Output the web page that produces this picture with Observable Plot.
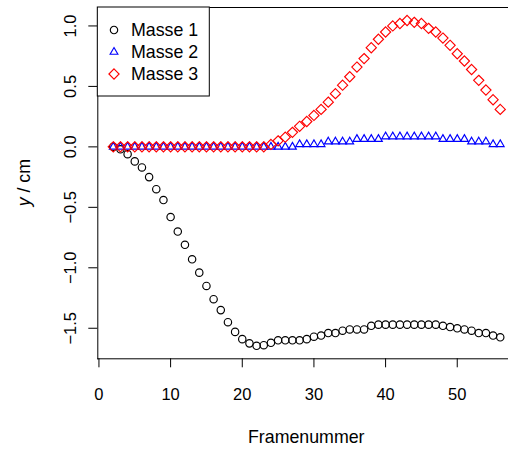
<!DOCTYPE html>
<html><head><meta charset="utf-8">
<script src="https://cdn.jsdelivr.net/npm/d3@7"></script>
<script src="https://cdn.jsdelivr.net/npm/@observablehq/plot@0.6"></script>
<style>
body{margin:0;background:#fff;}
#chart{position:relative;width:508px;height:450px;overflow:hidden;}
</style></head><body><div id="chart"></div>
<script>
const frames = [2,3,4,5,6,7,8,9,10,11,12,13,14,15,16,17,18,19,20,21,22,23,24,25,26,27,28,29,30,31,32,33,34,35,36,37,38,39,40,41,42,43,44,45,46,47,48,49,50,51,52,53,54,55,56];
const masse1 = [0.00,-0.02,-0.06,-0.12,-0.17,-0.25,-0.35,-0.44,-0.58,-0.70,-0.81,-0.93,-1.04,-1.15,-1.26,-1.35,-1.45,-1.53,-1.59,-1.625,-1.645,-1.64,-1.62,-1.60,-1.60,-1.60,-1.60,-1.59,-1.57,-1.56,-1.54,-1.54,-1.52,-1.51,-1.51,-1.51,-1.48,-1.47,-1.47,-1.47,-1.47,-1.47,-1.47,-1.47,-1.47,-1.47,-1.48,-1.49,-1.50,-1.51,-1.52,-1.54,-1.54,-1.56,-1.575];
const masse2 = [0,0,0,0,0,0,0,0,0,0,0,0,0,0,0,0,0,0,0,0,0,0,0,0,0,0,0.021,0.021,0.021,0.021,0.043,0.043,0.043,0.043,0.064,0.064,0.064,0.064,0.085,0.085,0.085,0.085,0.085,0.085,0.085,0.085,0.064,0.064,0.064,0.064,0.043,0.043,0.043,0.021,0.021];
const masse3 = [0,0,0,0,0,0,0,0,0,0,0,0,0,0,0,0,0,0,0,0,0,0,0.02,0.05,0.08,0.12,0.17,0.21,0.26,0.31,0.37,0.44,0.51,0.58,0.66,0.73,0.82,0.89,0.95,1.00,1.02,1.045,1.03,1.02,0.98,0.95,0.90,0.84,0.77,0.71,0.64,0.55,0.47,0.39,0.31];
const seriesNames = ["Masse 1","Masse 2","Masse 3"];
const seriesColors = ["#000000","#0000FF","#FF0000"];
const seriesSymbols = ["circle","triangle2","diamond2"];
const seriesRadius = [3.7,3.7,4.6];
const xTicks = [0,10,20,30,40,50];
const yTicks = [-1.5,-1.0,-0.5,0.0,0.5,1.0];
const xLabel = "Framenummer";

const data = frames.map((f,i)=>({frame:f, m1:masse1[i], m2:masse2[i], m3:masse3[i]}));
const keys = ["m1","m2","m3"];
const font = "'Liberation Sans', Arial, Helvetica, sans-serif";
const fs = 16.5;
const fsBig = 17.8;
const fmt = d3.format(".1f");

const mL = 97.3, mT = 7, plotBottom = 358.3;

const plot = Plot.plot({
  width: 508, height: 450,
  marginTop: mT, marginBottom: 450 - plotBottom, marginLeft: mL, marginRight: 0,
  style: {fontFamily: font, fontSize: fs + "px", background: "white", color: "black", overflow: "hidden"},
  x: {domain: [-0.16, 58.16], range: [mL, mL + 58.32 * 7.166]},
  y: {domain: [-1.7526, 1.1526]},
  marks: [
    Plot.frame({anchor: "left", stroke: "black"}),
    Plot.frame({anchor: "top", stroke: "black"}),
    Plot.frame({anchor: "bottom", stroke: "black"}),
    Plot.axisX({ticks: xTicks, tickSize: 9, tickPadding: 20, label: null, fontSize: fs, stroke: "black"}),
    Plot.axisY({ticks: yTicks, tickSize: 9, tickFormat: () => "", label: null, stroke: "black"}),
    Plot.text(yTicks, {y: d => d, text: d => fmt(d), frameAnchor: "left", dx: -27, rotate: -90, textAnchor: "middle", lineAnchor: "middle", fontSize: fs, fill: "black"}),
    ...keys.map((k,i) => Plot.dot(data, {x: "frame", y: k, symbol: seriesSymbols[i], r: seriesRadius[i], stroke: seriesColors[i], fill: "none", strokeWidth: 1.15}))
  ]
});
document.getElementById("chart").appendChild(plot);

const svg = d3.select(plot);
// axis titles
svg.append("text").attr("x", (mL + 515.2)/2).attr("y", 443).attr("text-anchor","middle")
  .style("font-family", font).style("font-size", fsBig+"px").attr("fill","black").text(xLabel);
const yl = svg.append("text").attr("transform", `translate(29.5,${(mT+plotBottom)/2}) rotate(-90)`).attr("text-anchor","middle")
  .style("font-family", font).style("font-size", fsBig+"px").attr("fill","black");
yl.append("tspan").style("font-style","italic").text("y");
yl.append("tspan").text(" / cm");

// legend
const lg = svg.append("g");
lg.append("rect").attr("x", mL).attr("y", mT).attr("width", 112).attr("height", 89)
  .attr("fill","white").attr("stroke","black").attr("stroke-width",1);
const d3sym = {circle: d3.symbolCircle, triangle2: d3.symbolTriangle2, diamond2: d3.symbolDiamond2};
seriesNames.forEach((name,i) => {
  const cy = 30 + i*22;
  lg.append("path").attr("d", d3.symbol(d3sym[seriesSymbols[i]], Math.PI*seriesRadius[i]**2)())
    .attr("transform", `translate(114,${cy})`).attr("fill","none").attr("stroke", seriesColors[i]).attr("stroke-width",1.15);
  lg.append("text").attr("x", 131).attr("y", cy + 6.3).attr("text-anchor","start").style("font-family", font).style("font-size", fsBig+"px")
    .attr("fill","black").text(name);
});
</script></body></html>
